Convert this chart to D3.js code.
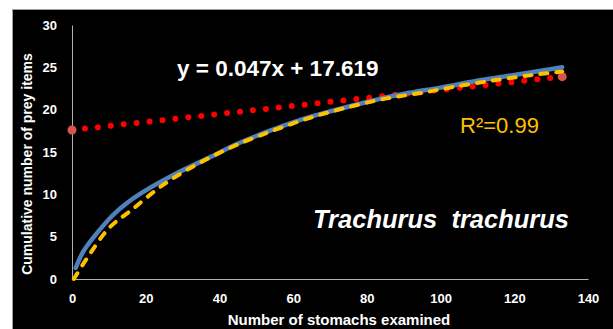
<!DOCTYPE html>
<html><head><meta charset="utf-8">
<script src="https://cdn.jsdelivr.net/npm/d3@7"></script>
<style>
html,body{margin:0;padding:0;background:#fff;}
svg{display:block;}
text{font-family:"Liberation Sans",Arial,sans-serif;}
</style></head>
<body>
<svg id="c" width="613" height="329"></svg>
<script>
// Observed accumulation curve (blue)
const obsX = [1, 3, 6, 11, 15, 19, 28, 39, 44, 53, 62, 71, 80, 88, 93, 100, 111, 120, 133];
const obsY = [1.3, 3.2, 5.0, 7.5, 9.0, 10.2, 12.4, 14.7, 15.8, 17.4, 18.8, 19.9, 20.9, 21.7, 22.1, 22.6, 23.5, 24.1, 25.0];
// Fitted curve (yellow dashed)
const fitX = [0.5, 4, 10, 16, 25, 35, 45, 55, 65, 75, 85, 95, 105, 115, 125, 133];
const fitY = [0, 2.4, 6.0, 8.1, 11.2, 13.8, 15.9, 17.6, 19.1, 20.3, 21.3, 22.0, 22.8, 23.5, 24.1, 24.5];
// Linear trend (red dotted)
const trendX = [0, 133];
const trendY = [17.6, 23.9];
const xTicks = [0, 20, 40, 60, 80, 100, 120, 140];
const yTicks = [0, 5, 10, 15, 20, 25, 30];
const equationLabel = "y = 0.047x + 17.619";
const r2Label = "R²=0.99";
const speciesLabel = "Trachurus  trachurus";
const xTitle = "Number of stomachs examined";
const yTitle = "Cumulative number of prey items";

const svg = d3.select("#c");
// background
svg.append("rect").attr("x", 12.5).attr("y", 9.5).attr("width", 601).attr("height", 320)
  .attr("fill", "#000").attr("stroke", "#a0a0a0").attr("stroke-width", 1);

const x = d3.scaleLinear().domain([0, 140]).range([72, 588]);
const y = d3.scaleLinear().domain([0, 30]).range([279, 25]);

// axes
const gx = svg.append("g").attr("transform", `translate(0,${y(0)})`)
  .call(d3.axisBottom(x).tickValues(xTicks).tickSize(0).tickPadding(15));
const gy = svg.append("g").attr("transform", `translate(${x(0)},0)`)
  .call(d3.axisLeft(y).tickValues(yTicks).tickSize(0).tickPadding(15));
[gx, gy].forEach(g => {
  g.select(".domain").attr("stroke", "#b0b0b0").attr("stroke-width", 1);
  g.selectAll("text").attr("fill", "#fff").attr("font-size", 13).attr("font-weight", "bold")
    .attr("font-family", "'Liberation Sans', Arial, sans-serif");
});

// red dotted trendline
svg.append("path")
  .attr("d", d3.line().x(d => x(d[0])).y(d => y(d[1]))(trendX.map((v, i) => [v, trendY[i]])))
  .attr("fill", "none").attr("stroke", "#ff0000").attr("stroke-width", 6)
  .attr("stroke-linecap", "round").attr("stroke-dasharray", "0,13");
svg.selectAll("circle.end").data(trendX.map((v, i) => [v, trendY[i]])).enter()
  .append("circle").attr("class", "end")
  .attr("cx", d => x(d[0])).attr("cy", d => y(d[1])).attr("r", 4.5)
  .attr("fill", "#d9534f");

// blue observed curve
svg.append("path")
  .attr("d", d3.line().curve(d3.curveCatmullRom).x(d => x(d[0])).y(d => y(d[1]))(obsX.map((v, i) => [v, obsY[i]])))
  .attr("fill", "none").attr("stroke", "#4f81bd").attr("stroke-width", 4.5)
  .attr("stroke-linecap", "round");

// yellow dashed fitted curve
svg.append("path")
  .attr("d", d3.line().curve(d3.curveCatmullRom).x(d => x(d[0])).y(d => y(d[1]))(fitX.map((v, i) => [v, fitY[i]])))
  .attr("fill", "none").attr("stroke", "#ffc000").attr("stroke-width", 4)
  .attr("stroke-linecap", "round").attr("stroke-dasharray", "7,9");

// labels
svg.append("text").attr("x", 177).attr("y", 76).attr("fill", "#fff")
  .attr("font-size", 22.5).attr("font-weight", "bold").text(equationLabel);
svg.append("text").attr("x", 460).attr("y", 133).attr("fill", "#ffc000")
  .attr("font-size", 22).text(r2Label);
svg.append("text").attr("x", 313).attr("y", 228).attr("fill", "#fff")
  .attr("font-size", 25.5).attr("font-weight", "bold").attr("font-style", "italic")
  .style("white-space", "pre").text(speciesLabel);
svg.append("text").attr("x", 339).attr("y", 325).attr("fill", "#fff")
  .attr("text-anchor", "middle").attr("font-size", 15).attr("font-weight", "bold").text(xTitle);
svg.append("text").attr("transform", "translate(32,164) rotate(-90)").attr("fill", "#fff")
  .attr("text-anchor", "middle").attr("font-size", 14).attr("font-weight", "bold").text(yTitle);
</script>
</body></html>
